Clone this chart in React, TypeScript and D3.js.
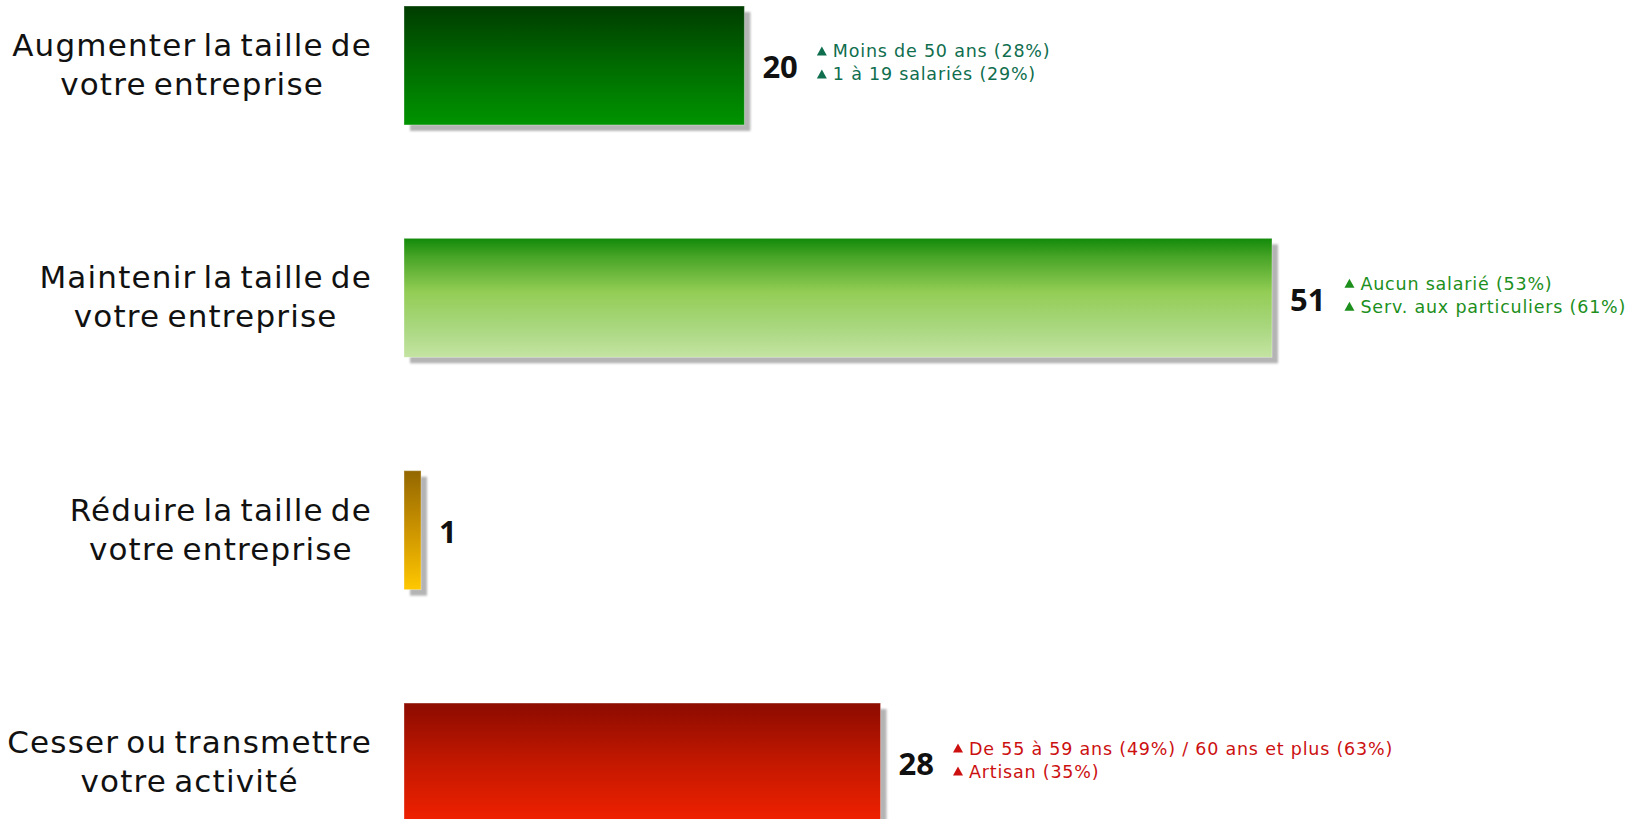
import React, { useEffect, useRef } from 'react';
import * as d3 from 'd3';

// Intentions for the company's future, share of respondents (%)
const categories = [
  'Augmenter la taille de\nvotre entreprise',
  'Maintenir la taille de\nvotre entreprise',
  'Réduire la taille de\nvotre entreprise',
  'Cesser ou transmettre\nvotre activité',
];
const values = [20, 51, 1, 28];

// Sub-groups that are over-represented for each answer
const highlights = [
  ['Moins de 50 ans (28%)', '1 à 19 salariés (29%)'],
  ['Aucun salarié (53%)', 'Serv. aux particuliers (61%)'],
  [],
  ['De 55 à 59 ans (49%) / 60 ans et plus (63%)', 'Artisan (35%)'],
];

const W = 1648;
const H = 819;

// Vertical gradient stops per bar
const barGradients: [number, string][][] = [
  [[0, '#003c00'], [0.5, '#006b00'], [1, '#009400']],
  [[0, '#128a0a'], [0.15, '#46a426'], [0.45, '#93cd55'], [0.75, '#a9d77f'], [1, '#c4e4a2']],
  [[0, '#936700'], [0.5, '#cc9400'], [1, '#ffc800']],
  [[0, '#8c0b00'], [0.5, '#c31800'], [1, '#f02100']],
];
const noteColors = ['#0f6e4e', '#1c8f1c', '#cc1010', '#cc1010'];

export default function App() {
  const ref = useRef<SVGSVGElement | null>(null);

  useEffect(() => {
    const svg = d3.select(ref.current);
    svg.selectAll('*').remove();

    const x = d3
      .scaleLinear()
      .domain([0, d3.max(values) as number])
      .range([404, 1272]);
    const y = d3
      .scaleBand<string>()
      .domain(categories)
      .range([6, 822])
      .paddingInner(0.488)
      .paddingOuter(0);

    const defs = svg.append('defs');
    barGradients.forEach((stops, i) => {
      const g = defs
        .append('linearGradient')
        .attr('id', `bar-grad-${i}`)
        .attr('x1', 0)
        .attr('y1', 0)
        .attr('x2', 0)
        .attr('y2', 1);
      stops.forEach(([o, c]) => g.append('stop').attr('offset', o).attr('stop-color', c));
    });
    defs
      .append('filter')
      .attr('id', 'shadow-blur')
      .attr('x', '-10%')
      .attr('y', '-10%')
      .attr('width', '120%')
      .attr('height', '120%')
      .append('feGaussianBlur')
      .attr('stdDeviation', 1.2);

    const rows = svg
      .selectAll('g.row')
      .data(categories)
      .join('g')
      .attr('class', 'row');

    // drop shadows
    rows
      .append('rect')
      .attr('x', x(0) + 6)
      .attr('y', (d) => (y(d) as number) + 6)
      .attr('width', (_, i) => x(values[i]) - x(0))
      .attr('height', y.bandwidth())
      .attr('fill', '#b4b4b4')
      .attr('filter', 'url(#shadow-blur)');

    // bars
    rows
      .append('rect')
      .attr('x', x(0))
      .attr('y', (d) => y(d) as number)
      .attr('width', (_, i) => x(values[i]) - x(0))
      .attr('height', y.bandwidth())
      .attr('fill', (_, i) => `url(#bar-grad-${i})`)
      .attr('stroke', 'rgba(255,255,255,0.35)')
      .attr('stroke-width', 1);

    // category labels: lines centred on each other, block right-aligned
    const labelRight = 372;
    rows.each(function (d) {
      const g = d3.select(this);
      const cy = (y(d) as number) + y.bandwidth() / 2;
      const lines = d.split('\n');
      const t = g
        .append('text')
        .attr('font-family', '"DejaVu Sans", sans-serif')
        .attr('font-size', 31)
        .attr('letter-spacing', 1.2)
        .attr('word-spacing', -4)
        .attr('fill', '#111')
        .attr('text-anchor', 'middle');
      const spans = lines.map((line, k) =>
        t
          .append('tspan')
          .attr('y', cy - 9.5 + k * 39)
          .text(line)
      );
      const maxW = d3.max(spans, (s) => (s.node() as SVGTSpanElement).getComputedTextLength()) as number;
      spans.forEach((s) => s.attr('x', labelRight - maxW / 2));
    });

    // value labels and highlighted sub-groups
    rows.each(function (d, i) {
      const g = d3.select(this);
      const cy = (y(d) as number) + y.bandwidth() / 2;
      const vx = x(values[i]) + 18;
      const v = g
        .append('text')
        .attr('x', vx)
        .attr('y', cy + 2)
        .attr('dy', '0.35em')
        .attr('font-family', '"Open Sans", sans-serif')
        .attr('font-weight', 700)
        .attr('font-size', 31)
        .attr('fill', '#111')
        .text(values[i]);
      const vw = (v.node() as SVGTextElement).getComputedTextLength();
      const tx = vx + vw + 19;
      highlights[i].forEach((note, k) => {
        const by = cy - 8 + k * 23;
        g.append('path')
          .attr('d', `M${tx},${by - 2} L${tx + 10},${by - 2} L${tx + 5},${by - 11} Z`)
          .attr('fill', noteColors[i]);
        g.append('text')
          .attr('x', tx + 16)
          .attr('y', by)
          .attr('font-family', '"DejaVu Sans", sans-serif')
          .attr('font-size', 17.5)
          .attr('letter-spacing', 0.8)
          .attr('fill', noteColors[i])
          .text(note);
      });
    });
  }, []);

  return (
    <svg
      ref={ref}
      width={W}
      height={H}
      style={{ position: 'absolute', left: 0, top: 0, background: '#fff', display: 'block' }}
    />
  );
}
